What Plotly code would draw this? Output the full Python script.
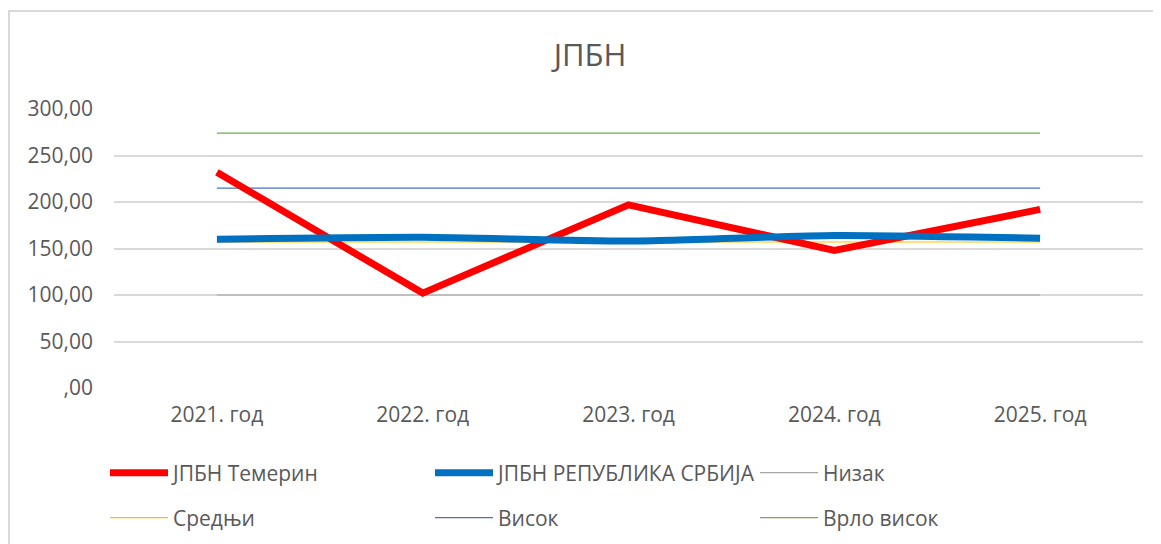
import plotly.graph_objects as go

categories = ["2021. год", "2022. год", "2023. год", "2024. год", "2025. год"]
temerin = [232, 102, 197, 148, 192]
srbija = [160, 162, 158, 164, 161]
nizak = [100, 100, 100, 100, 100]
srednji = [157, 157, 157, 157, 157]
visok = [215, 215, 215, 215, 215]
vrlo_visok = [274, 274, 274, 274, 274]
y_ticks = [0, 50, 100, 150, 200, 250, 300]
y_tick_labels = [",00", "50,00", "100,00", "150,00", "200,00", "250,00", "300,00"]

FONT = "Open Sans"
TXT = "#595959"

fig = go.Figure()
thin = [
    ("Низак", nizak, "#A5A5A5", "legend"),
    ("Средњи", srednji, "#FFC000", "legend2"),
    ("Висок", visok, "#4472C4", "legend2"),
    ("Врло висок", vrlo_visok, "#70AD47", "legend2"),
]
for name, vals, col, lg in thin:
    fig.add_trace(go.Scatter(x=categories, y=vals, mode="lines", name=name,
                             line=dict(color=col, width=1.2), legend=lg))

fig.add_trace(go.Scatter(x=categories, y=temerin, mode="lines", name="ЈПБН Темерин",
                         line=dict(color="#FF0000", width=7), legend="legend"))
fig.add_trace(go.Scatter(x=categories, y=srbija, mode="lines", name="ЈПБН РЕПУБЛИКА СРБИЈА",
                         line=dict(color="#0070C0", width=7, shape="spline", smoothing=0.6),
                         legend="legend"))

ranks = {"ЈПБН Темерин": 1, "ЈПБН РЕПУБЛИКА СРБИЈА": 2, "Низак": 3,
         "Средњи": 4, "Висок": 5, "Врло висок": 6}
for tr in fig.data:
    tr.legendrank = ranks[tr.name]

# the page body adds an 8px offset; work in screen pixels and convert
OFF = 8
W, H = 1161 - OFF, 544 - OFF
PL, PR, PT, PB = 114, 1143, 109, 388  # plot area in screen pixels
L, T = PL - OFF, PT - OFF
R = W - (PR - OFF)
B = H - (PB - OFF)
pw, ph = W - L - R, H - T - B

def px_x(p):
    return (p - OFF - L) / pw

def px_y(p):
    return (H - B - (p - OFF)) / ph

legend_common = dict(orientation="h", font=dict(family=FONT, size=21, color=TXT),
                     entrywidth=252, entrywidthmode="pixels", itemwidth=58,
                     bgcolor="rgba(0,0,0,0)", xanchor="left", yanchor="middle",
                     tracegroupgap=0)

fig.update_layout(
    width=W, height=H,
    margin=dict(l=L, r=R, t=T, b=B, autoexpand=False),
    paper_bgcolor="white", plot_bgcolor="white",
    font=dict(family=FONT, color=TXT),
    title=dict(text="ЈПБН", x=(590 - OFF) / W, xanchor="center",
               y=1 - (55 - OFF) / H, yanchor="middle",
               font=dict(family=FONT, size=31, color=TXT)),
    xaxis=dict(type="category", range=[-0.5, 4.5], showgrid=False, zeroline=False,
               showline=False, ticks="", tickfont=dict(family=FONT, size=21, color=TXT),
               ticklabelstandoff=12),
    yaxis=dict(range=[0, 300], tickvals=y_ticks, ticktext=y_tick_labels,
               showgrid=True, gridcolor="#D9D9D9", gridwidth=1.5, zeroline=False,
               showline=False, ticks="", tickfont=dict(family=FONT, size=21, color=TXT),
               ticklabelstandoff=20),
    legend=dict(x=px_x(105), y=px_y(473), **legend_common),
    legend2=dict(x=px_x(105), y=px_y(518), **legend_common),
    shapes=[dict(type="rect", xref="paper", yref="paper",
                 x0=px_x(9), x1=px_x(1175), y0=px_y(560), y1=px_y(11),
                 line=dict(color="#D9D9D9", width=2), fillcolor="rgba(0,0,0,0)",
                 layer="below")],
)

fig.write_html("out.html")
